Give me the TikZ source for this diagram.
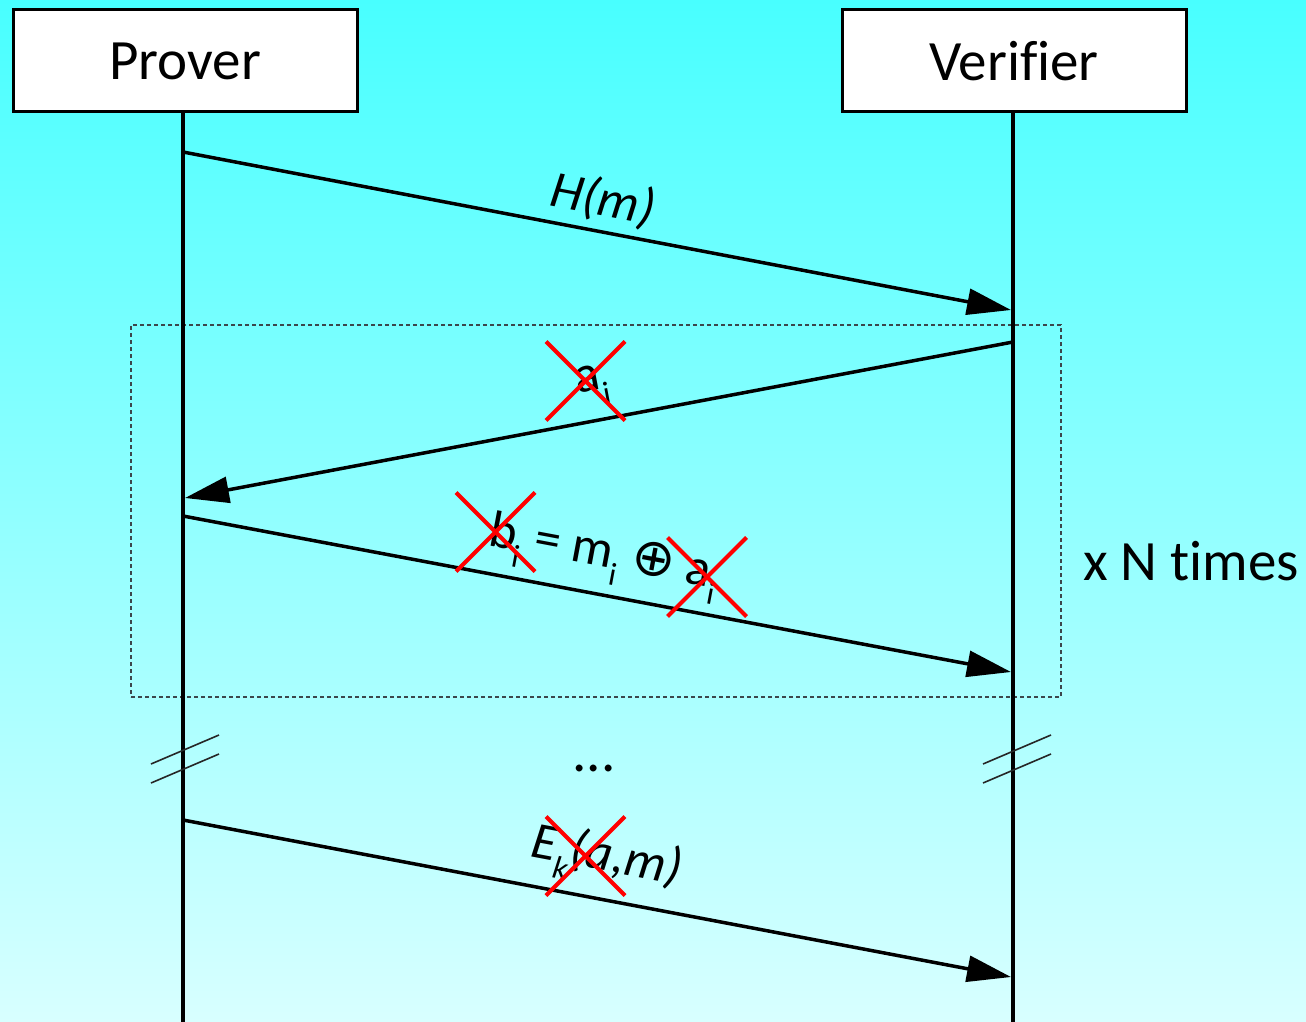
\documentclass[tikz,border=0pt]{standalone}
\usepackage{fontspec}
\setmainfont{Carlito}[Ligatures={NoCommon,NoRare}]
\newfontfamily\symfont{DejaVu Sans}
\usetikzlibrary{arrows.meta,shapes.misc}
\definecolor{bgtop}{RGB}{72,255,255}
\definecolor{bgbot}{RGB}{216,255,255}
\definecolor{dashc}{RGB}{60,70,75}
\newcommand\sbs[1]{\raisebox{-0.32em}{\fontsize{32}{32}\selectfont #1}}
\begin{document}
\begin{tikzpicture}[x=1pt,y=-1pt,
  actor/.style={draw, line width=3pt, fill=white, minimum width=344pt, minimum height=102pt, inner sep=0pt, font=\fontsize{57}{60}\selectfont},
  life/.style={line width=4pt},
  msg/.style={line width=3.5pt, -{Triangle[length=44pt,width=26pt]}},
  lbl/.style={font=\fontsize{52}{56}\selectfont, inner sep=0pt},
  xout/.style={cross out, draw=red, line width=4pt, minimum size=75pt, inner sep=0pt},
  brk/.style={line width=1.6pt, black!85},
  bigtxt/.style={font=\fontsize{57}{60}\selectfont, inner sep=0pt}]
\shade[top color=bgtop, bottom color=bgbot] (0,0) rectangle (1306,1022);
\useasboundingbox (0,0) rectangle (1306,1022);

% loop frame
\node[draw=dashc, dash pattern=on 4pt off 3pt, line width=1.2pt, minimum width=930pt, minimum height=372pt, inner sep=0pt] (loop) at (596,511) {};

% lifelines
\coordinate (ptop) at (183,112);
\coordinate (pbot) at (183,1022);
\coordinate (vtop) at (1013,112);
\coordinate (vbot) at (1013,1022);
\draw[life] (ptop) -- (pbot);
\draw[life] (vtop) -- (vbot);

% actors
\node[actor] (prover) at (185,61) {Prover};
\node[actor] (verifier) at (1014,61) {Verif\kern0pt ier};

% message endpoints
\coordinate (m1s) at (183,152);  \coordinate (m1e) at (1011,310);
\coordinate (m2s) at (1013,342); \coordinate (m2e) at (185,498);
\coordinate (m3s) at (183,516);  \coordinate (m3e) at (1011,672);
\coordinate (m4s) at (183,820);  \coordinate (m4e) at (1011,977);

\draw[msg] (m1s) -- (m1e);
\draw[msg] (m2s) -- (m2e);
\draw[msg] (m3s) -- (m3e);
\draw[msg] (m4s) -- (m4e);

% labels
\node[lbl, rotate=-10.78] (hm) at (603,200) {\itshape H(m)};
\node[lbl, rotate=10.64] (ai) at (593,386) {a\sbs{i}};
\node[lbl, rotate=-10.64] (bi) at (603,557) {b\sbs{i} = m\sbs{i} {\symfont ⊕} a\sbs{i}};
\node[lbl, rotate=-10.7] (ek) at (606,860) {\itshape E\sbs{k}(a,m)};

% red crosses
\node[xout] (x1) at (585.5,381) {};
\node[xout] (x2) at (495.5,532) {};
\node[xout] (x3) at (707,577) {};
\node[xout] (x4) at (585.5,856) {};

% x N times
\node[bigtxt] (times) at (1191,561) {x N times};

% ellipsis
\node[bigtxt] (dots) at (594,768) {...};

% break marks
\draw[brk] (151,764) -- (219,735);
\draw[brk] (151,783) -- (219,754);
\draw[brk] (983,764) -- (1051,735);
\draw[brk] (983,783) -- (1051,754);
\end{tikzpicture}
\end{document}
